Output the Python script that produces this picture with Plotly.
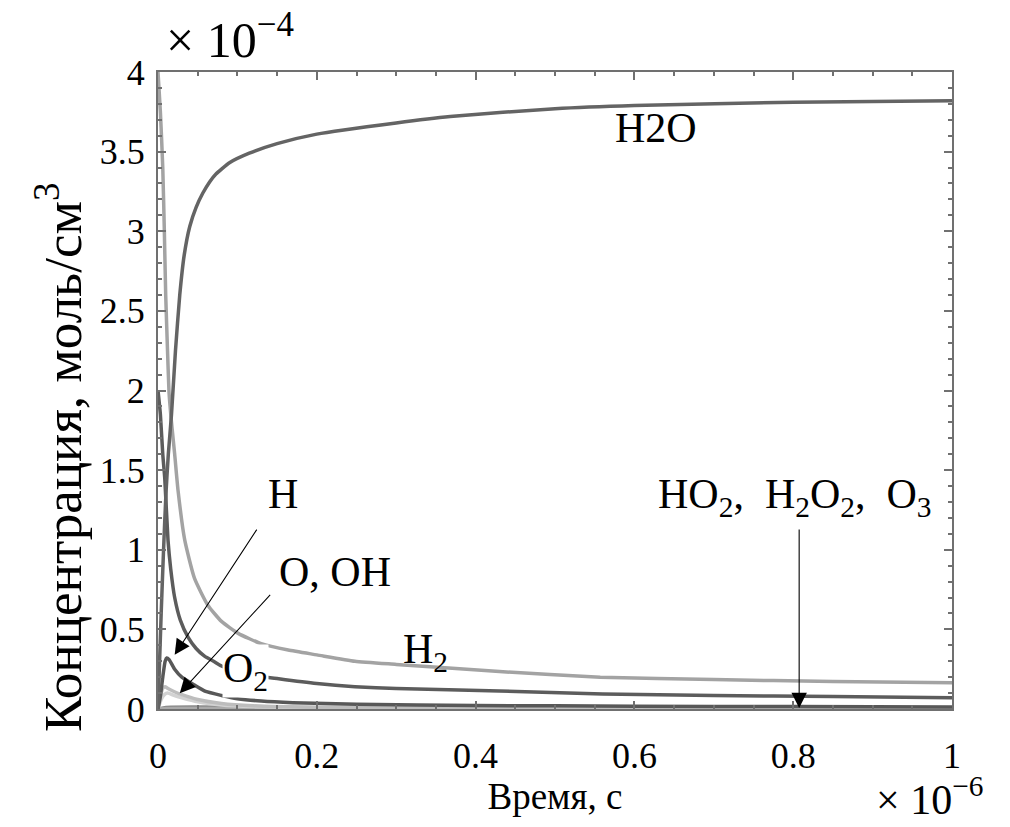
import plotly.graph_objects as go

# ---- data (time in units of 1e-6 s, concentration in units of 1e-4 mol/cm^3) ----
t_h2o = [0, 0.002, 0.004, 0.007, 0.010, 0.013, 0.017, 0.022, 0.0274, 0.033, 0.040, 0.048,
         0.0565, 0.065, 0.073, 0.09, 0.115, 0.15, 0.2, 0.3, 0.368, 0.5, 0.6, 0.8, 1.0]
c_h2o = [0, 0.3, 0.6, 1.0, 1.35, 1.6, 1.85, 2.25, 2.6, 2.85, 3.03, 3.15,
         3.24, 3.31, 3.36, 3.43, 3.49, 3.55, 3.61, 3.68, 3.72, 3.77, 3.79, 3.81, 3.82]

t_h2 = [0, 0.003, 0.006, 0.008, 0.0097, 0.012, 0.014, 0.017, 0.021, 0.0253, 0.0337, 0.046,
        0.063, 0.08, 0.101, 0.13, 0.164, 0.2, 0.248, 0.3, 0.43, 0.557, 0.7, 0.85, 1.0]
c_h2 = [4.0, 3.75, 3.4, 3.0, 2.6, 2.25, 1.98, 1.8, 1.6, 1.37, 1.06, 0.82,
        0.65, 0.55, 0.475, 0.41, 0.37, 0.34, 0.30, 0.28, 0.235, 0.2, 0.185, 0.172, 0.165]

t_o2 = [0, 0.003, 0.006, 0.0085, 0.0126, 0.016, 0.021, 0.028, 0.038, 0.048, 0.059, 0.07, 0.080,
        0.11, 0.152, 0.2, 0.248, 0.3, 0.43, 0.56, 0.7, 0.85, 1.0]
c_o2 = [2.0, 1.85, 1.6, 1.45, 1.06, 0.88, 0.70, 0.56, 0.45, 0.38, 0.33, 0.30, 0.27,
        0.22, 0.19, 0.16, 0.14, 0.128, 0.113, 0.094, 0.085, 0.078, 0.071]

t_h = [0, 0.003, 0.006, 0.009, 0.011, 0.014, 0.021, 0.03, 0.046, 0.06, 0.08, 0.1, 0.13,
       0.17, 0.25, 0.4, 0.6, 0.8, 1.0]
c_h = [0, 0.08, 0.2, 0.3, 0.32, 0.31, 0.25, 0.2, 0.15, 0.11, 0.085, 0.065, 0.05,
       0.04, 0.03, 0.022, 0.018, 0.015, 0.013]

t_o = [0, 0.003, 0.006, 0.009, 0.012, 0.02, 0.03, 0.05, 0.08, 0.12, 0.2, 0.4, 1.0]
c_o = [0, 0.08, 0.13, 0.14, 0.13, 0.11, 0.09, 0.06, 0.035, 0.02, 0.01, 0.006, 0.004]

t_oh = [0, 0.004, 0.008, 0.012, 0.02, 0.03, 0.05, 0.08, 0.12, 0.2, 1.0]
c_oh = [0, 0.06, 0.09, 0.10, 0.085, 0.07, 0.045, 0.025, 0.015, 0.008, 0.003]

t_minor = [0, 0.01, 0.05, 0.2, 0.5, 1.0]
c_ho2 = [0, 0.010, 0.012, 0.010, 0.009, 0.008]
c_h2o2 = [0, 0.003, 0.005, 0.005, 0.004, 0.004]
c_o3 = [0, 0.001, 0.001, 0.001, 0.001, 0.001]

x_ticks = [0, 0.2, 0.4, 0.6, 0.8, 1]
x_ticklabels = ["0", "0.2", "0.4", "0.6", "0.8", "1"]
y_ticks = [0, 0.5, 1, 1.5, 2, 2.5, 3, 3.5, 4]
y_ticklabels = ["0", "0.5", "1", "1.5", "2", "2.5", "3", "3.5", "4"]

FONT = "Liberation Serif, Times New Roman, serif"

fig = go.Figure()

series = [
    ("HO2", t_minor, c_ho2, "#8a8a8a"),
    ("H2O2", t_minor, c_h2o2, "#9a9a9a"),
    ("O3", t_minor, c_o3, "#aaaaaa"),
    ("OH", t_oh, c_oh, "#d2d2d2"),
    ("O", t_o, c_o, "#bdbdbd"),
    ("H", t_h, c_h, "#585858"),
    ("O2", t_o2, c_o2, "#5c5c5c"),
    ("H2", t_h2, c_h2, "#a3a3a3"),
    ("H2O", t_h2o, c_h2o, "#646464"),
]
for name, tx, cy, col in series:
    fig.add_trace(go.Scatter(x=tx, y=cy, mode="lines", name=name,
                             line=dict(color=col, width=3.5, shape="spline", smoothing=0.5)))

axis_common = dict(
    showline=True, linecolor="#707070", linewidth=2, mirror="allticks",
    ticks="inside", ticklen=8, tickwidth=1.5, tickcolor="#707070",
    showgrid=False, zeroline=False,
    tickfont=dict(family=FONT, size=36, color="black"),
)

fig.update_xaxes(range=[0, 1], tickvals=x_ticks, ticktext=x_ticklabels,
                 ticklabelstandoff=14,
                 minor=dict(dtick=0.05, ticks="inside", ticklen=4, tickcolor="#707070"),
                 title=dict(text="Время, с", font=dict(family=FONT, size=37, color="black"),
                            standoff=2),
                 **axis_common)
fig.update_yaxes(range=[0, 4], tickvals=y_ticks, ticktext=y_ticklabels,
                 ticklabelstandoff=4,
                 minor=dict(dtick=0.1, ticks="inside", ticklen=4, tickcolor="#707070"),
                 **axis_common)

ann_font = dict(family=FONT, size=42, color="black")
arrow = dict(showarrow=True, arrowhead=2, arrowsize=2.8, arrowwidth=1.1, arrowcolor="black",
             axref="x", ayref="y", text="")
annotations = [
    # multipliers
    dict(text="× 10<sup>−4</sup>", xref="paper", yref="paper", x=0.008, y=1.003,
         xanchor="left", yanchor="bottom", showarrow=False, font=dict(family=FONT, size=50)),
    dict(text="× 10<sup>−6</sup>", xref="paper", yref="paper", x=1.042, y=-0.137,
         xanchor="right", yanchor="middle", showarrow=False, font=dict(family=FONT, size=42)),
    # y title
    dict(text="Концентрация, моль/см<sup>3</sup>", xref="paper", yref="paper",
         x=-0.124, y=0.395, xanchor="center", yanchor="middle", textangle=-90,
         showarrow=False, font=dict(family=FONT, size=53, color="black")),
    # species labels
    dict(text="H2O", x=0.627, y=3.65, showarrow=False, font=ann_font),
    dict(text="H", x=0.157, y=1.35, showarrow=False, font=ann_font),
    dict(text="O, OH", x=0.223, y=0.86, showarrow=False, font=ann_font),
    dict(text="H<sub>2</sub>", x=0.337, y=0.36, showarrow=False, font=ann_font),
    dict(text="O<sub>2</sub>", x=0.11, y=0.24, showarrow=False, font=ann_font,
         bgcolor="white", borderpad=0),
    dict(text="HO<sub>2</sub>,  H<sub>2</sub>O<sub>2</sub>,  O<sub>3</sub>", x=0.802, y=1.33,
         showarrow=False, font=ann_font),
    # arrows
    dict(x=0.021, y=0.34, ax=0.1256, ay=1.136, **arrow),
    dict(x=0.0274, y=0.099, ax=0.143, ay=0.726, **arrow),
    dict(x=0.8075, y=0.006, ax=0.8075, ay=1.136, **arrow),
]
fig.update_layout(
    width=1010, height=827,
    margin=dict(l=158, r=58, t=72, b=118),
    paper_bgcolor="white", plot_bgcolor="white",
    showlegend=False,
    annotations=annotations,
    font=dict(family=FONT, color="black"),
)

fig.write_html("out.html", config={"displayModeBar": False},
               post_script="document.body.style.margin='0';document.body.style.overflow='hidden';")
